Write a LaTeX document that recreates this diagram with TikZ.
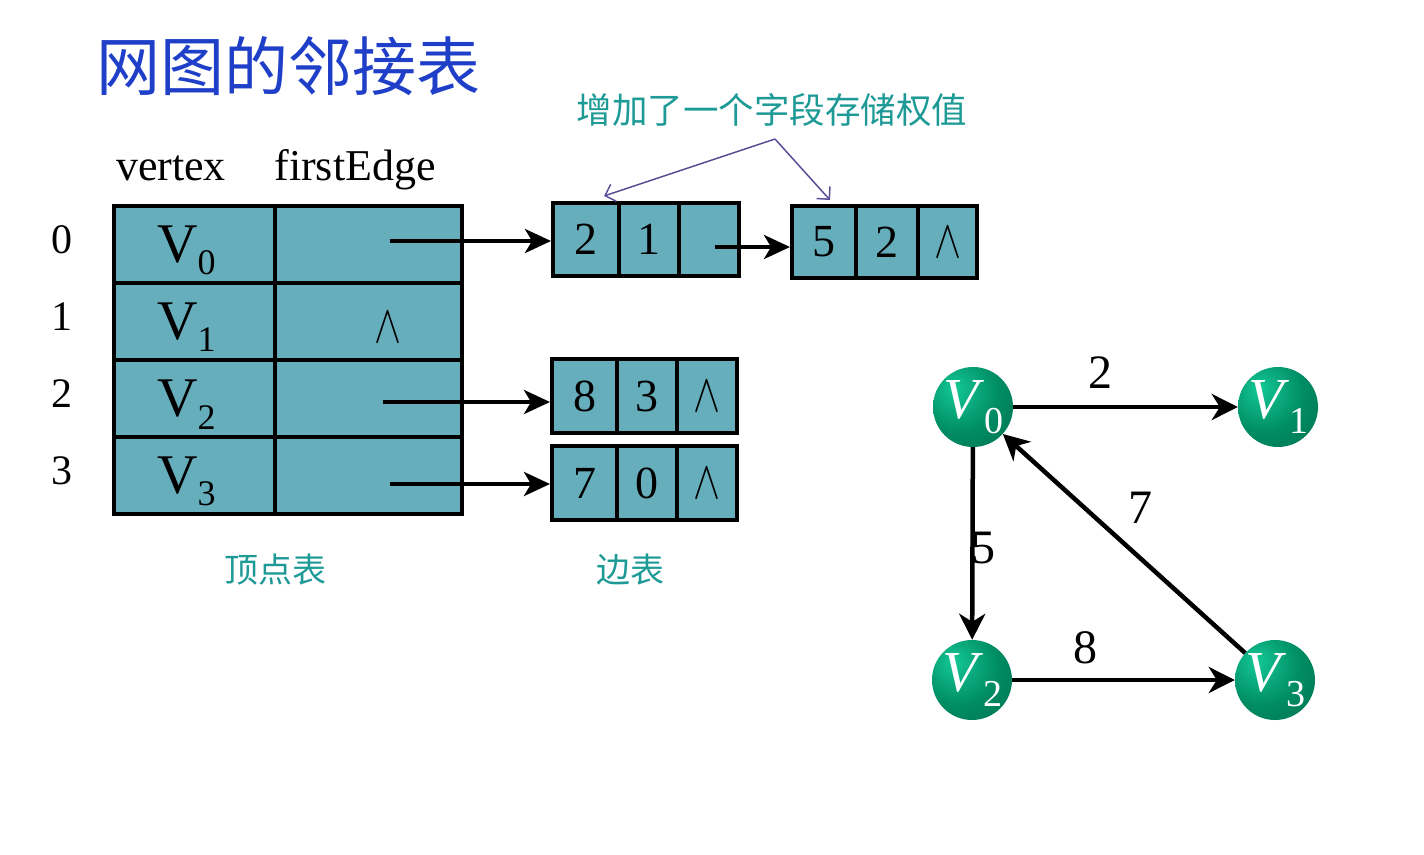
\documentclass[tikz,border=0pt]{standalone}
\usepackage{graphicx}
\usepackage{fontspec}
\setmainfont{Liberation Serif}
\newfontfamily\cjk{Noto Sans CJK SC}
\usetikzlibrary{arrows.meta,calc}
\definecolor{cellfill}{RGB}{102,174,188}
\definecolor{tealtext}{RGB}{30,154,150}
\definecolor{titleblue}{RGB}{31,63,200}
\definecolor{annline}{RGB}{90,78,150}
\definecolor{gA}{RGB}{20,200,150}
\definecolor{gB}{RGB}{0,140,100}
\definecolor{gC}{RGB}{0,95,65}
\pgfdeclareradialshading{gball}{\pgfpoint{-12bp}{12bp}}{color(0bp)=(gA); color(25bp)=(gB); color(62bp)=(gC); color(100bp)=(gC)}
\newcommand{\fs}[1]{\fontsize{#1}{#1}\selectfont}
\newcommand{\Vsub}[1]{V\raisebox{-0.22em}{\fs{36}#1}}
\newcommand{\Visub}[1]{\textit{V}\raisebox{-0.25em}{\fs{38}#1}}
\newcommand{\nil}{\resizebox{27pt}{30pt}{$\wedge$}}
\tikzset{
  vcell/.style={draw=black, line width=4pt, fill=cellfill, minimum height=77pt, inner sep=0pt},
  vlabel/.style={font=\fs{56}, inner sep=0pt},
  ecell/.style={draw=black, line width=4pt, fill=cellfill, inner sep=0pt, font=\fs{46}},
  ptr/.style={line width=4pt, -{Stealth[length=26pt,width=24pt,inset=7pt]}},
  gnode/.style={circle, minimum size=80pt, inner sep=0pt, shading=gball, text=white, font=\fs{58}},
  gedge/.style={line width=4.5pt, -{Stealth[length=26pt,width=26pt,inset=8pt]}},
  wlabel/.style={font=\fs{48}},
  idx/.style={font=\fs{42}},
  captext/.style={font=\cjk\fs{34}, text=tealtext},
  annarrow/.style={line width=1.5pt, draw=annline, -{Straight Barb[length=9pt,width=18pt]}}
}
\begin{document}
\begin{tikzpicture}[x=1pt,y=-1pt]
\useasboundingbox (0,0) rectangle (1424,854);
% title
\node[anchor=west, font=\cjk\fs{64}, text=titleblue, inner sep=0pt] (title) at (96,66) {网图的邻接表};
% headers
\node[font=\fs{44}, anchor=base] (hv) at (171,180) {vertex};
\node[font=\fs{44}, anchor=base] (hf) at (355,180) {firstEdge};
% vertex table
\foreach \i/\y in {0/244.5,1/321.5,2/398.5,3/475.5}{
  \node[vcell, minimum width=161pt] (v\i a) at (194.5,\y) {};
  \node[vcell, minimum width=187pt] (v\i b) at (368.5,\y) {};
  \node[vlabel] (l\i) at ($(v\i a.center)+(-8,6)$) {\Vsub{\i}};
  \node[idx] (n\i) at (62,\y-5) {\i};
}
\node[inner sep=0pt] (nil1) at (388,327) {\nil};
% edge lists
\node[ecell, minimum width=66pt, minimum height=73pt] (e0a) at (586,239.5) {2};
\node[ecell, minimum width=60pt, minimum height=73pt] (e0b) at (649,239.5) {1};
\node[ecell, minimum width=60pt, minimum height=73pt] (e0c) at (709,239.5) {};
\node[ecell, minimum width=64pt, minimum height=72pt] (e1a) at (824,242) {5};
\node[ecell, minimum width=62pt, minimum height=72pt] (e1b) at (887,242) {2};
\node[ecell, minimum width=59pt, minimum height=72pt] (e1c) at (947.5,242) {\nil};
\node[ecell, minimum width=65pt, minimum height=74pt] (e2a) at (584.5,396) {8};
\node[ecell, minimum width=60pt, minimum height=74pt] (e2b) at (647,396) {3};
\node[ecell, minimum width=60pt, minimum height=74pt] (e2c) at (707,396) {\nil};
\node[ecell, minimum width=65pt, minimum height=74pt] (e3a) at (584.5,483) {7};
\node[ecell, minimum width=60pt, minimum height=74pt] (e3b) at (647,483) {0};
\node[ecell, minimum width=60pt, minimum height=74pt] (e3c) at (707,483) {\nil};
% pointers
\coordinate (p0) at (390,241);
\coordinate (p1) at (715,247);
\coordinate (p2) at (383,402);
\coordinate (p3) at (390,484);
\draw[ptr] (p0) -- (p0 -| e0a.west);
\draw[ptr] (p1) -- (p1 -| e1a.west);
\draw[ptr] (p2) -- (p2 -| e2a.west);
\draw[ptr] (p3) -- (p3 -| e3a.west);
% captions
\node[captext] (c1) at (275,570) {顶点表};
\node[captext] (c2) at (630,570) {边表};
\node[captext, font=\cjk\fs{35.5}] (c3) at (772,110) {增加了一个字段存储权值};
\coordinate (a0) at (775,139);
\coordinate (a1) at (604,196);
\coordinate (a2) at (830,200);
\draw[annarrow] (a0) -- (a1);
\draw[annarrow] (a0) -- (a2);
% graph
\node[gnode] (g0) at (973,407) {\Visub{0}};
\node[gnode] (g1) at (1278,407) {\Visub{1}};
\node[gnode] (g2) at (972,680) {\Visub{2}};
\node[gnode] (g3) at (1275,680) {\Visub{3}};
\draw[gedge] (g0) -- (g1);
\draw[gedge] (g0) -- (g2);
\draw[gedge] (g2) -- (g3);
\draw[gedge] (g3) -- (g0);
\node[wlabel] (w2) at (1100,373) {2};
\node[wlabel] (w5) at (983,548) {5};
\node[wlabel] (w7) at (1140,508) {7};
\node[wlabel] (w8) at (1085,648) {8};
\end{tikzpicture}
\end{document}
